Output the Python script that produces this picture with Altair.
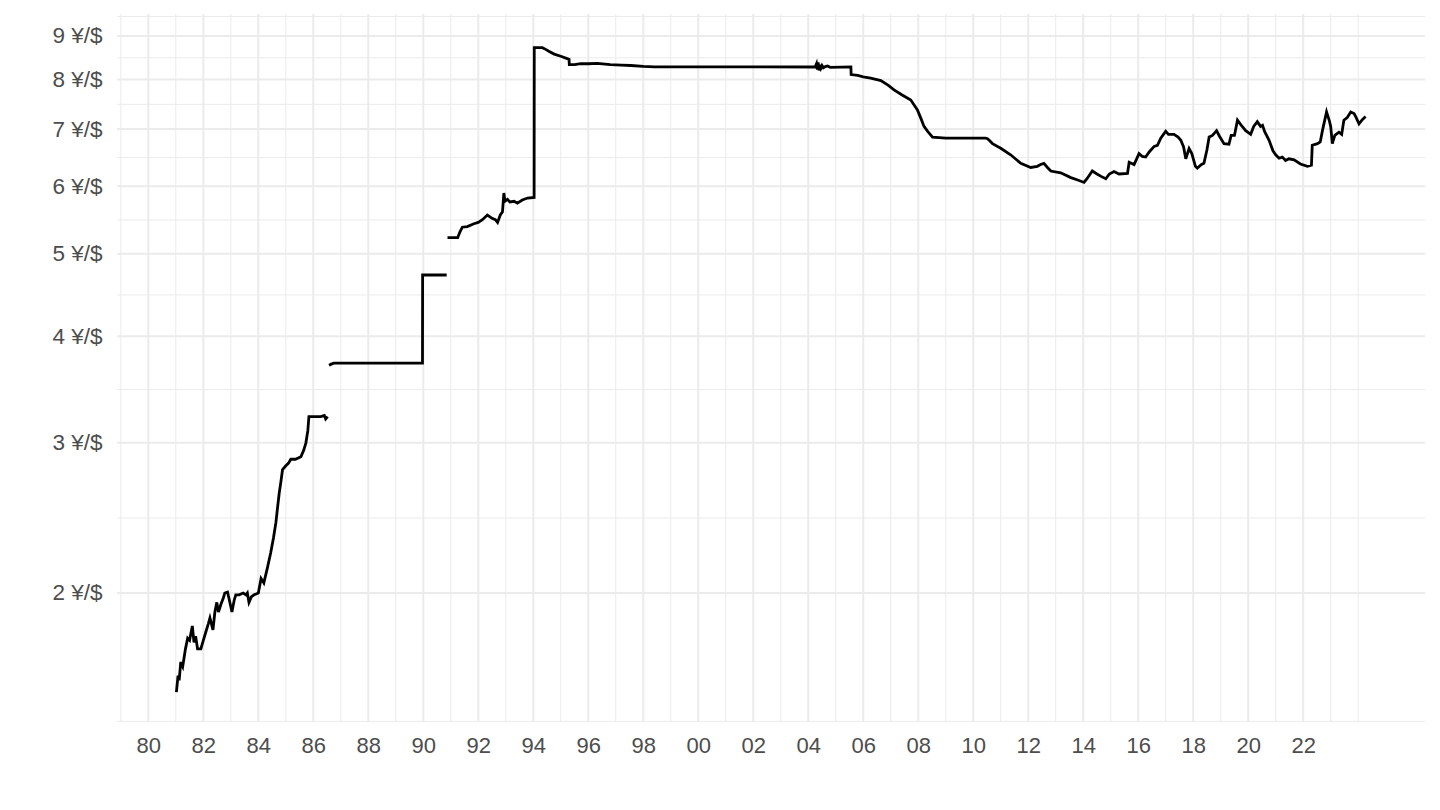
import altair as alt
import pandas as pd

# ---- data (yuan per US dollar) ----
seg1_t = [1981.02, 1981.08, 1981.12, 1981.18, 1981.25, 1981.35, 1981.43, 1981.5, 1981.6, 1981.66,
          1981.72, 1981.79, 1981.91, 1982.0, 1982.09, 1982.18, 1982.24, 1982.35, 1982.42, 1982.49,
          1982.55, 1982.64, 1982.72, 1982.78, 1982.88, 1982.95, 1983.04, 1983.12, 1983.18, 1983.3,
          1983.45, 1983.55, 1983.6, 1983.66, 1983.75, 1983.85, 1984.0, 1984.1, 1984.2, 1984.33,
          1984.45, 1984.55, 1984.64, 1984.7, 1984.76, 1984.82, 1984.88, 1985.0, 1985.1, 1985.18,
          1985.35, 1985.55, 1985.65, 1985.73, 1985.8, 1985.84, 1986.0, 1986.27, 1986.4, 1986.45, 1986.52]
seg1_v = [1.53, 1.60, 1.58, 1.66, 1.64, 1.72, 1.77, 1.76, 1.83, 1.75,
          1.78, 1.72, 1.72, 1.76, 1.80, 1.84, 1.87, 1.81, 1.90, 1.95,
          1.90, 1.94, 1.97, 2.00, 2.005, 1.96, 1.90, 1.96, 1.99, 1.99,
          2.00, 1.99, 2.00, 1.95, 1.98, 1.99, 2.00, 2.08, 2.055, 2.14,
          2.23, 2.32, 2.42, 2.52, 2.62, 2.70, 2.79, 2.82, 2.84, 2.87,
          2.87, 2.89, 2.94, 3.00, 3.10, 3.22, 3.22, 3.22, 3.23, 3.20, 3.22]

seg2_t = [1986.57, 1986.65, 1986.75, 1989.97, 1989.975, 1990.85]
seg2_v = [3.70, 3.71, 3.72, 3.72, 4.72, 4.72]

seg3_t = [1990.88, 1991.25, 1991.33, 1991.42, 1991.6, 1991.84, 1992.0, 1992.15, 1992.33, 1992.5,
          1992.62, 1992.7, 1992.8, 1992.88, 1992.93, 1992.97, 1993.06, 1993.15, 1993.3, 1993.42,
          1993.6, 1993.79, 1994.03, 1994.035, 1994.33, 1994.45, 1994.58, 1994.76, 1995.0, 1995.3,
          1995.31, 1995.5, 1995.73, 1996.0, 1996.33, 1996.8, 1997.2, 1997.55, 1998.0, 1998.4,
          2004.25, 2004.3, 2004.33, 2004.36, 2004.39, 2004.42, 2004.46, 2004.5, 2004.55, 2004.6,
          2004.7, 2004.8, 2005.55, 2005.56, 2005.8, 2006.0, 2006.27, 2006.64, 2006.9, 2007.12,
          2007.4, 2007.73, 2007.85, 2007.97, 2008.1, 2008.21, 2008.35, 2008.52, 2009.0, 2009.5,
          2010.0, 2010.45, 2010.52, 2010.6, 2010.7, 2011.0, 2011.36, 2011.73, 2012.09, 2012.33,
          2012.45, 2012.57, 2012.7, 2012.82, 2013.18, 2013.55, 2013.8, 2014.03, 2014.15, 2014.33,
          2014.5, 2014.65, 2014.82, 2014.95, 2015.12, 2015.3, 2015.61, 2015.67, 2015.85, 2016.03,
          2016.15, 2016.27, 2016.4, 2016.58, 2016.7, 2016.82, 2017.0, 2017.1, 2017.3, 2017.45,
          2017.55, 2017.65, 2017.73, 2017.85, 2017.95, 2018.08, 2018.15, 2018.3, 2018.39, 2018.5,
          2018.58, 2018.7, 2018.85, 2018.95, 2019.12, 2019.3, 2019.38, 2019.5, 2019.61, 2019.75,
          2019.91, 2020.09, 2020.2, 2020.33, 2020.45, 2020.52, 2020.6, 2020.76, 2020.9, 2021.0,
          2021.12, 2021.24, 2021.36, 2021.48, 2021.67, 2021.9, 2022.15, 2022.3, 2022.33, 2022.52,
          2022.62, 2022.7, 2022.85, 2022.95, 2023.0, 2023.06, 2023.15, 2023.3, 2023.4, 2023.48,
          2023.6, 2023.73, 2023.85, 2023.91, 2024.03, 2024.15, 2024.27]
seg3_v = [5.22, 5.22, 5.30, 5.37, 5.38, 5.42, 5.44, 5.48, 5.55, 5.50,
          5.48, 5.44, 5.55, 5.60, 5.89, 5.76, 5.79, 5.75, 5.76, 5.73,
          5.78, 5.81, 5.82, 8.72, 8.72, 8.68, 8.63, 8.57, 8.52, 8.45,
          8.33, 8.33, 8.35, 8.35, 8.36, 8.33, 8.32, 8.31, 8.29, 8.28,
          8.277, 8.35, 8.22, 8.38, 8.20, 8.33, 8.25, 8.31, 8.26, 8.28,
          8.30, 8.27, 8.28, 8.11, 8.09, 8.06, 8.03, 7.98, 7.88, 7.78,
          7.68, 7.57, 7.47, 7.37, 7.20, 7.05, 6.95, 6.85, 6.83, 6.83,
          6.83, 6.83, 6.82, 6.78, 6.73, 6.645, 6.53, 6.38, 6.31, 6.33,
          6.36, 6.38, 6.31, 6.25, 6.22, 6.14, 6.10, 6.06, 6.13, 6.25,
          6.20, 6.16, 6.12, 6.20, 6.24, 6.20, 6.21, 6.40, 6.36, 6.55,
          6.50, 6.49, 6.58, 6.68, 6.70, 6.83, 6.96, 6.90, 6.90, 6.85,
          6.79, 6.67, 6.46, 6.64, 6.55, 6.33, 6.30, 6.36, 6.38, 6.62,
          6.85, 6.88, 6.97, 6.87, 6.73, 6.72, 6.88, 6.88, 7.17, 7.07,
          6.97, 6.90, 7.05, 7.14, 7.05, 7.07, 6.95, 6.79, 6.60, 6.53,
          6.47, 6.49, 6.43, 6.46, 6.44, 6.37, 6.33, 6.35, 6.70, 6.73,
          6.76, 6.97, 7.33, 7.16, 7.05, 6.73, 6.88, 6.94, 6.90, 7.17,
          7.22, 7.33, 7.30, 7.24, 7.10, 7.18, 7.24]

# axis breaks and labels
x_major = list(range(1980, 2023, 2))
x_labels = ["80", "82", "84", "86", "88", "90", "92", "94", "96", "98", "00",
            "02", "04", "06", "08", "10", "12", "14", "16", "18", "20", "22"]
x_minor = list(range(1979, 2024, 2)) + [2024]
y_major = [2, 3, 4, 5, 6, 7, 8, 9]
y_minor = [1.414, 2.449, 3.464, 4.472, 5.477, 6.481, 7.483, 8.485, 9.487]

# ---- build tables ----
rows = []
for name, ts, vs in (("a", seg1_t, seg1_v), ("b", seg2_t, seg2_v), ("c", seg3_t, seg3_v)):
    for t, v in zip(ts, vs):
        rows.append({"t": t, "v": v, "seg": name})
df = pd.DataFrame(rows)

W, H = 1308, 708
GRID = "#EBEBEB"
FONT = "Liberation Sans"

xs = alt.Scale(domain=[1978.86, 2026.43], nice=False, zero=False)
ys = alt.Scale(type="log", domain=[1.4117, 9.55], nice=False)

label_js = "[" + ",".join("'" + s + "'" for s in x_labels) + "]"

x_axis = alt.Axis(values=x_major, grid=False, domain=False, ticks=False, tickSize=0,
                  labelExpr=label_js + "[round((datum.value - 1980) / 2)]",
                  labelFont=FONT, labelFontSize=22, labelColor="#4D4D4D",
                  labelPadding=13, labelFlush=False, labelOverlap=False)
y_axis = alt.Axis(values=y_major, grid=False, domain=False, ticks=False, tickSize=0,
                  labelExpr="datum.value + ' ¥/$'",
                  labelFont=FONT, labelFontSize=22.5, labelColor="#4D4D4D",
                  labelPadding=15, labelFlush=False, labelOverlap=False)

vmin = alt.Chart(pd.DataFrame({"g": x_minor})).mark_rule(color=GRID, strokeWidth=1).encode(
    x=alt.X("g:Q", scale=xs, axis=x_axis, title=None), y=alt.value(0), y2=alt.value(H))
hmin = alt.Chart(pd.DataFrame({"g": y_minor})).mark_rule(color=GRID, strokeWidth=1).encode(
    y=alt.Y("g:Q", scale=ys, axis=y_axis, title=None), x=alt.value(0), x2=alt.value(W))
vmaj = alt.Chart(pd.DataFrame({"g": x_major})).mark_rule(color=GRID, strokeWidth=2).encode(
    x=alt.X("g:Q", scale=xs, axis=x_axis, title=None), y=alt.value(0), y2=alt.value(H))
hmaj = alt.Chart(pd.DataFrame({"g": y_major})).mark_rule(color=GRID, strokeWidth=2).encode(
    y=alt.Y("g:Q", scale=ys, axis=y_axis, title=None), x=alt.value(0), x2=alt.value(W))

line = alt.Chart(df).mark_line(color="black", strokeWidth=2.8).encode(
    x=alt.X("t:Q", scale=xs, title=None, axis=x_axis),
    y=alt.Y("v:Q", scale=ys, title=None, axis=y_axis),
    detail="seg:N",
)

chart = alt.layer(vmin, hmin, vmaj, hmaj, line).properties(
    width=W, height=H,
    autosize=alt.AutoSizeParams(type="none"),
    padding={"left": 109, "top": 6, "right": 7, "bottom": 80},
    background="white",
).configure_view(stroke=None)

chart.save("out.html", embed_options={"renderer": "svg", "actions": False})
